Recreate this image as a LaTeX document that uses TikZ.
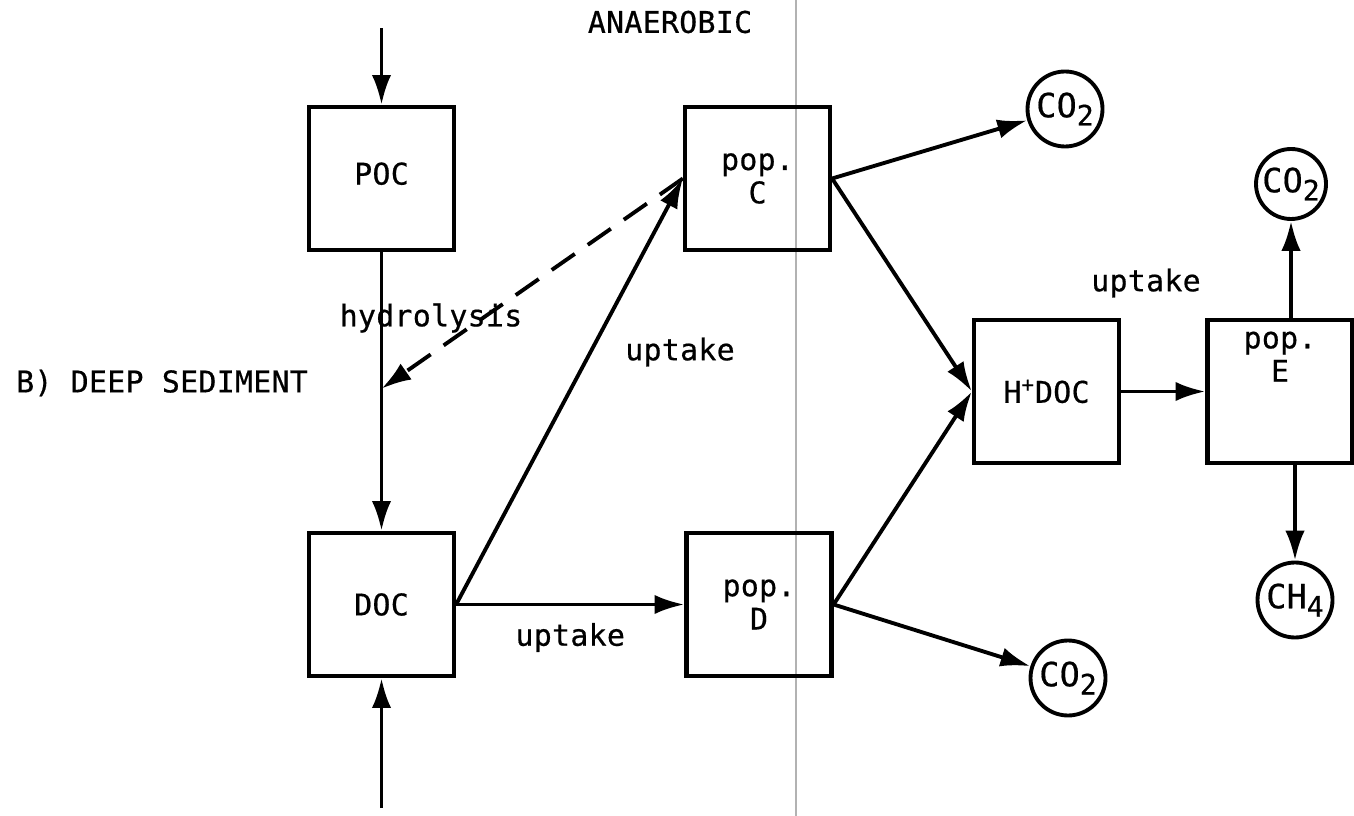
\documentclass[tikz,border=0pt]{standalone}
\usepackage{fontspec}
\setmainfont{DejaVu Sans Mono}[LetterSpace=1, FakeBold=0.6]
\usepackage{tikz}
\usetikzlibrary{shapes,arrows.meta,positioning,calc}
\newcommand{\gassub}[1]{\raisebox{-0.45ex}{\fontsize{16pt}{16pt}\selectfont #1}}

\begin{document}
\begin{tikzpicture}[node distance=2cm,
    font=\fontsize{17pt}{19pt}\selectfont,
    box/.style={draw, rectangle, line width=2.4pt, minimum width=2.9cm, minimum height=2.86cm, align=center},
    gas/.style={draw, circle, line width=2.2pt, minimum size=1.5cm, inner sep=0pt, font=\fontsize{19pt}{19pt}\selectfont},
    flow/.style={line width=2.2pt},
    >={Latex[length=17pt,width=11pt]}]
    \useasboundingbox (0,0) rectangle (27.08,-16.32);
    \draw[gray!60, line width=0.8pt] (15.92,0) -- (15.92,-16.32);

    \node (poc) [box] at (7.63,-3.57) {\raisebox{0.2cm}{POC}};
    \node (doc) [box, below of=poc, node distance=8.52cm] {DOC};
    \node (popc) [box, right of=poc, node distance=7.52cm] {pop.\\C};
    \node (popd) [box, right of=doc, node distance=7.55cm] {pop.\\D};
    \node (hdoc) [box] at (20.93,-7.83) {H\textsuperscript{+}DOC};
    \node (pope) [box, right of=hdoc, node distance=4.67cm,
        label={[align=center, anchor=north, yshift=-0.15cm]north:pop.\\E}] {};
    \node (co2c) [gas] at (21.30,-2.18) {CO\gassub{2}};
    \node (co2d) [gas] at (21.36,-13.56) {CO\gassub{2}};
    \node (co2e) [gas, above of=pope, node distance=4.15cm, xshift=0.22cm, minimum size=1.4cm] {CO\gassub{2}};
    \node (ch4) [gas, below of=pope, node distance=4.17cm, xshift=0.3cm] {CH\gassub{4}};

    \node (pocin) [above of=poc, node distance=3cm, coordinate] {};
    \node (docin) [below of=doc, node distance=4.07cm, coordinate] {};
    \coordinate (hyd) at ($(poc.south)!0.49!(doc.north)$);

    \node (anaer) at (13.4,-0.44) {ANAEROBIC};
    \node (deep) [anchor=west] at (0.2,-7.66) {B) DEEP SEDIMENT};
    \node (hydro) at (8.62,-6.36) {hydrolysis};
    \node (upc) at (13.6,-7.04) {uptake};
    \node (upe) at (22.92,-5.66) {uptake};

    \draw[->, flow] (pocin) -- (poc);
    \draw[->, flow] (docin) -- (doc);
    \draw[->, flow] (poc) -- (doc);
    \draw[->, flow, dash pattern=on 16pt off 9pt] (popc.west) -- (hyd);
    \draw[->, flow] (doc.east) -- (popc.west);
    \draw[->, flow] (doc) -- node[yshift=-0.66cm] (upd) {uptake} (popd);
    \draw[->, flow] (popc.east) -- (co2c);
    \draw[->, flow] (popd.east) -- (co2d);
    \draw[->, flow] (popc.east) -- (hdoc.west);
    \draw[->, flow] (popd.east) -- (hdoc.west);
    \draw[->, flow] (hdoc) -- (pope);
    \draw[->, flow] (pope.north -| co2e) -- (co2e);
    \draw[->, flow] (pope.south -| ch4) -- (ch4);
\end{tikzpicture}
\end{document}
